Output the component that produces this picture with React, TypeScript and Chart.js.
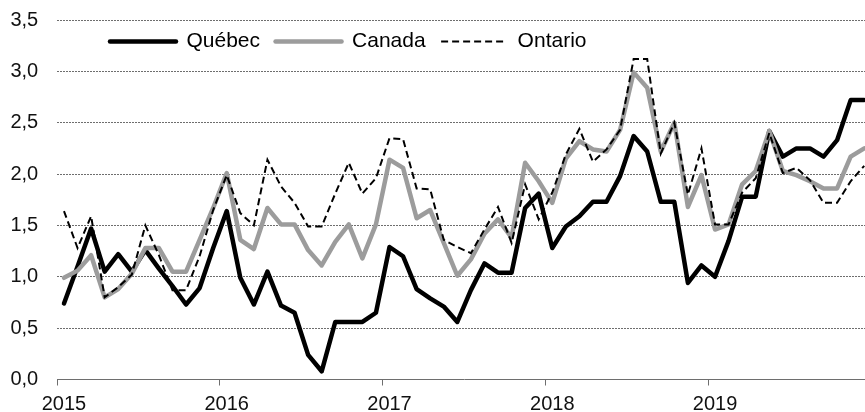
import { useEffect, useRef } from 'react';
import { Chart, registerables } from 'chart.js';

Chart.register(...registerables);

// ---------- data ----------
const YEARS = ['2015', '2016', '2017', '2018', '2019'];
const MONTHS = ['01', '02', '03', '04', '05', '06', '07', '08', '09', '10', '11', '12'];
const categories = YEARS.flatMap((y) => MONTHS.map((m) => `${y}-${m}`));

const SERIES_NAMES = ['Québec', 'Canada', 'Ontario'];

const quebec = [
  0.74, 1.10, 1.47, 1.05, 1.22, 1.05, 1.26, 1.08, 0.91, 0.73, 0.89, 1.28,
  1.64, 0.99, 0.73, 1.05, 0.72, 0.65, 0.24, 0.08, 0.56, 0.56, 0.56, 0.65,
  1.29, 1.20, 0.88, 0.79, 0.71, 0.56, 0.87, 1.13, 1.04, 1.04, 1.67, 1.81,
  1.28, 1.49, 1.59, 1.73, 1.73, 1.98, 2.37, 2.22, 1.73, 1.73, 0.94, 1.11,
  1.00, 1.35, 1.78, 1.78, 2.42, 2.17, 2.25, 2.25, 2.17, 2.33, 2.72, 2.72,
];

const canada = [
  0.99, 1.06, 1.21, 0.80, 0.88, 1.03, 1.28, 1.28, 1.05, 1.05, 1.36, 1.67,
  2.01, 1.36, 1.27, 1.67, 1.51, 1.51, 1.26, 1.11, 1.34, 1.51, 1.18, 1.51,
  2.14, 2.06, 1.57, 1.65, 1.33, 1.01, 1.17, 1.42, 1.56, 1.38, 2.11, 1.93,
  1.72, 2.15, 2.32, 2.24, 2.22, 2.43, 2.99, 2.84, 2.22, 2.50, 1.68, 1.99,
  1.46, 1.51, 1.90, 2.03, 2.42, 2.03, 1.99, 1.93, 1.86, 1.86, 2.17, 2.25,
];

const ontario = [
  1.64, 1.28, 1.59, 0.80, 0.90, 1.02, 1.50, 1.21, 0.87, 0.87, 1.20, 1.65,
  1.99, 1.62, 1.50, 2.14, 1.88, 1.72, 1.49, 1.49, 1.81, 2.11, 1.81, 1.96,
  2.35, 2.34, 1.86, 1.85, 1.36, 1.29, 1.23, 1.46, 1.68, 1.33, 1.90, 1.56,
  1.82, 2.19, 2.44, 2.12, 2.24, 2.43, 3.12, 3.12, 2.20, 2.50, 1.80, 2.25,
  1.51, 1.51, 1.82, 1.96, 2.40, 2.01, 2.06, 1.94, 1.72, 1.72, 1.93, 2.08,
];

const Y_MIN = 0;
const Y_MAX = 3.5;
const Y_STEP = 0.5;

// ---------- style ----------
const FONT = '"Liberation Sans", Arial, Helvetica, sans-serif';
const TEXT = '#111111';
const GRID = '#6e6e6e';
const AXIS = '#6e6e6e';
const GRAY = '#9c9c9c';
const CANVAS_W = 871;
const CANVAS_H = 412;
const PLOT_LEFT = 57.2;
const PLOT_TOP = 20;
const X_AXIS_H = 32.5;
const LEGEND_LEFT = 94.5;
const LEGEND_TOP = 15.5;

const legendOverlay = {
  id: 'legendOverlay',
  beforeLayout(chart: any) {
    const lg = chart.legend;
    if (lg && !lg.__overlay) {
      const origFit = lg.fit;
      lg.fit = function (this: any) {
        origFit.call(this);
        this.__h = this.height;
        this.__w = this.width;
        this.height = 0;
      };
      lg.__overlay = true;
    }
  },
  afterLayout(chart: any) {
    const lg = chart.legend;
    if (!lg) return;
    lg.left = LEGEND_LEFT;
    lg.top = LEGEND_TOP;
    lg.width = lg.__w;
    lg.height = lg.__h;
    lg.right = lg.left + lg.width;
    lg.bottom = lg.top + lg.height;
  },
};

export default function App() {
  const ref = useRef<HTMLCanvasElement | null>(null);

  useEffect(() => {
    if (!ref.current) return;
    Chart.defaults.font.family = FONT;
    const chart = new Chart(ref.current, {
      type: 'line',
      data: {
        labels: categories,
        datasets: [
          {
            label: SERIES_NAMES[0],
            data: quebec,
            borderColor: '#000000',
            backgroundColor: '#000000',
            borderWidth: 4.5,
            pointRadius: 0,
            borderCapStyle: 'round',
            borderJoinStyle: 'round',
            tension: 0,
            fill: false,
            order: 3,
          },
          {
            label: SERIES_NAMES[1],
            data: canada,
            borderColor: GRAY,
            backgroundColor: GRAY,
            borderWidth: 4.5,
            pointRadius: 0,
            borderCapStyle: 'round',
            borderJoinStyle: 'round',
            tension: 0,
            fill: false,
            order: 2,
          },
          {
            label: SERIES_NAMES[2],
            data: ontario,
            borderColor: '#000000',
            backgroundColor: '#000000',
            borderWidth: 2,
            borderDash: [7, 4],
            pointRadius: 0,
            tension: 0,
            fill: false,
            order: 1,
          },
        ],
      },
      options: {
        responsive: false,
        animation: false,
        events: [],
        devicePixelRatio: 1,
        layout: { padding: { left: 0, top: PLOT_TOP, right: 0, bottom: 0 } },
        plugins: {
          tooltip: { enabled: false },
          title: { display: false },
          legend: {
            display: true,
            position: 'top',
            align: 'start',
            labels: {
              usePointStyle: true,
              pointStyle: 'line',
              pointStyleWidth: 66,
              padding: 15.5,
              color: '#000000',
              font: { size: 21, family: FONT },
              generateLabels: (c: any) =>
                c.data.datasets.map((ds: any, i: number) => ({
                  text: ds.label,
                  fillStyle: ds.borderColor,
                  strokeStyle: ds.borderColor,
                  lineWidth: ds.borderWidth,
                  lineDash: ds.borderDash || [],
                  lineCap: ds.borderCapStyle || 'butt',
                  lineJoin: 'miter',
                  pointStyle: 'line',
                  hidden: false,
                  datasetIndex: i,
                  fontColor: '#000000',
                })),
            },
          },
        },
        scales: {
          x: {
            type: 'category',
            offset: true,
            afterFit: (s: any) => {
              s.height = X_AXIS_H;
              s.paddingLeft = 0;
              s.paddingRight = 0;
            },
            grid: {
              offset: true,
              drawOnChartArea: false,
              drawTicks: true,
              tickLength: 6,
              tickWidth: 1,
              tickColor: (c: any) => (c.index % 12 === 0 ? AXIS : 'rgba(0,0,0,0)'),
            },
            border: { display: true, color: AXIS, width: 1 },
            ticks: {
              autoSkip: false,
              maxRotation: 0,
              minRotation: 0,
              padding: 9,
              color: TEXT,
              font: { size: 20, family: FONT, lineHeight: 0.95 },
              callback: (_v: any, i: number) => (i % 12 === 0 ? categories[i].slice(0, 4) : ''),
            },
          },
          y: {
            min: Y_MIN,
            max: Y_MAX,
            afterFit: (s: any) => {
              s.width = PLOT_LEFT;
              s.paddingTop = 0;
              s.paddingBottom = 0;
            },
            border: { display: false, dash: [2, 1] },
            grid: {
              drawTicks: false,
              color: (c: any) => (c.tick && c.tick.value === 0 ? 'rgba(0,0,0,0)' : GRID),
              lineWidth: 1,
            },
            ticks: {
              stepSize: Y_STEP,
              padding: 19,
              color: TEXT,
              font: { size: 20, family: FONT },
              callback: (v: any) => Number(v).toFixed(1).replace('.', ','),
            },
          },
        },
      },
      plugins: [legendOverlay],
    } as any);
    return () => chart.destroy();
  }, []);

  return (
    <div
      style={{
        position: 'fixed',
        left: 0,
        top: 0,
        width: 865,
        height: 412,
        overflow: 'hidden',
        background: '#ffffff',
      }}
    >
      <canvas
        ref={ref}
        width={CANVAS_W}
        height={CANVAS_H}
        style={{ display: 'block', width: CANVAS_W, height: CANVAS_H }}
      />
    </div>
  );
}
